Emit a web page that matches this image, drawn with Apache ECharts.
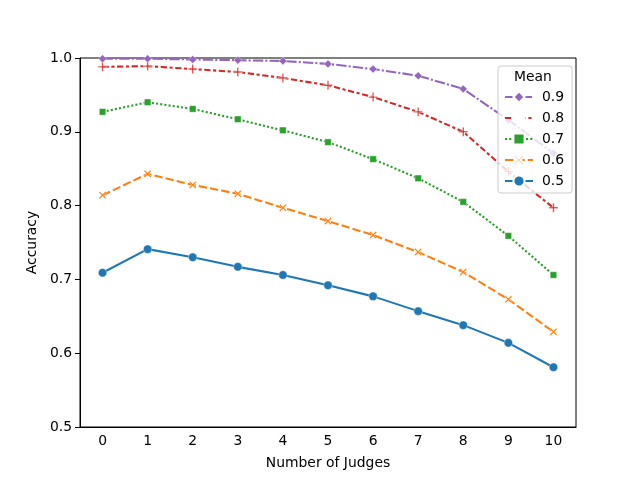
<!DOCTYPE html>
<html><head><meta charset="utf-8">
<script src="https://cdn.jsdelivr.net/npm/echarts@6/dist/echarts.min.js"></script>
<style>html,body{margin:0;padding:0;background:#fff}#c{width:640px;height:480px}</style>
</head><body><div id="c"></div>
<script>
const judges = ['0','1','2','3','4','5','6','7','8','9','10'];
const seriesNames = ['0.9','0.8','0.7','0.6','0.5'];
const mean09 = [0.999,0.999,0.998,0.997,0.996,0.992,0.985,0.976,0.958,0.916,0.871];
const mean08 = [0.988,0.989,0.985,0.981,0.973,0.963,0.947,0.927,0.900,0.846,0.797];
const mean07 = [0.927,0.940,0.931,0.917,0.902,0.886,0.863,0.837,0.805,0.759,0.706];
const mean06 = [0.814,0.843,0.828,0.816,0.797,0.779,0.760,0.737,0.710,0.673,0.629];
const mean05 = [0.709,0.741,0.730,0.717,0.706,0.692,0.677,0.657,0.638,0.614,0.581];
const yTicks = [0.5,0.6,0.7,0.8,0.9,1.0];

const FONT = 'DejaVu Sans';
const FS = 13.9;
const plusPath = 'path://M4.2,0 L5.8,0 L5.8,4.2 L10,4.2 L10,5.8 L5.8,5.8 L5.8,10 L4.2,10 L4.2,5.8 L0,5.8 L0,4.2 L4.2,4.2 Z';
const xPath = 'path://M1.4,0 L5,3.6 L8.6,0 L10,1.4 L6.4,5 L10,8.6 L8.6,10 L5,6.4 L1.4,10 L0,8.6 L3.6,5 L0,1.4 Z';

const cfg = [
  {name:'0.9', data:mean09, color:'#9467bd', symbol:'diamond', size:8, dash:[10.4,2.1,2.1,2.1]},
  {name:'0.8', data:mean08, color:'#d62728', symbol:plusPath, size:9, dash:[6.25,2.6,3.1,2.6]},
  {name:'0.7', data:mean07, color:'#2ca02c', symbol:'rect', size:6.5, dash:[2.1,2.1]},
  {name:'0.6', data:mean06, color:'#ff7f0e', symbol:xPath, size:7.5, dash:[8.3,3.1]},
  {name:'0.5', data:mean05, color:'#1f77b4', symbol:'circle', size:8.5, dash:'solid'}
];

const chart = echarts.init(document.getElementById('c'), null, {renderer:'canvas'});
chart.setOption({
  animation:false,
  backgroundColor:'#fff',
  textStyle:{fontFamily:FONT},
  grid:{left:80, right:64, top:58, bottom:53, show:true, borderColor:'#000', borderWidth:1, backgroundColor:'transparent'},
  xAxis:{
    type:'category', data:judges, boundaryGap:true,
    name:'Number of Judges', nameLocation:'middle', nameGap:29,
    nameTextStyle:{fontFamily:FONT, fontSize:FS, color:'#000'},
    axisLine:{lineStyle:{color:'#000', width:1}},
    axisTick:{alignWithLabel:true, length:5, lineStyle:{color:'#000'}},
    axisLabel:{fontFamily:FONT, fontSize:FS, color:'#000', margin:7},
    splitLine:{show:false}
  },
  yAxis:{
    type:'value', min:0.5, max:1.0, interval:0.1,
    name:'Accuracy', nameLocation:'middle', nameGap:38, nameRotate:90,
    nameTextStyle:{fontFamily:FONT, fontSize:FS, color:'#000'},
    axisLine:{show:true, lineStyle:{color:'#000', width:1}},
    axisTick:{show:true, length:5, lineStyle:{color:'#000'}},
    axisLabel:{fontFamily:FONT, fontSize:FS, color:'#000', margin:8,
      formatter:v => yTicks.some(t=>Math.abs(t-v)<1e-9) ? v.toFixed(1) : ''},
    splitLine:{show:false}
  },
  legend:{
    data:seriesNames, orient:'vertical', left:498, top:66,
    padding:[24,8,5,6], itemGap:7, itemWidth:28, itemHeight:14,
    backgroundColor:'rgba(255,255,255,0.8)', borderColor:'#cccccc', borderWidth:1, borderRadius:3,
    textStyle:{fontFamily:FONT, fontSize:FS, color:'#000', padding:[0,0,0,4]},
    z:10
  },
  graphic:[{type:'text', left:514, top:70, z:100, zlevel:0,
    style:{text:'Mean', font:'13.9px "DejaVu Sans"', fill:'#000'}}],
  series: cfg.map(c => ({
    name:c.name, type:'line', data:c.data,
    symbol:c.symbol, symbolSize:c.size, showSymbol:true,
    lineStyle:{color:c.color, width:2.08, type:c.dash},
    itemStyle:{color:c.color, borderColor:'#fff', borderWidth:0.4},
    z:2
  }))
});
</script></body></html>
